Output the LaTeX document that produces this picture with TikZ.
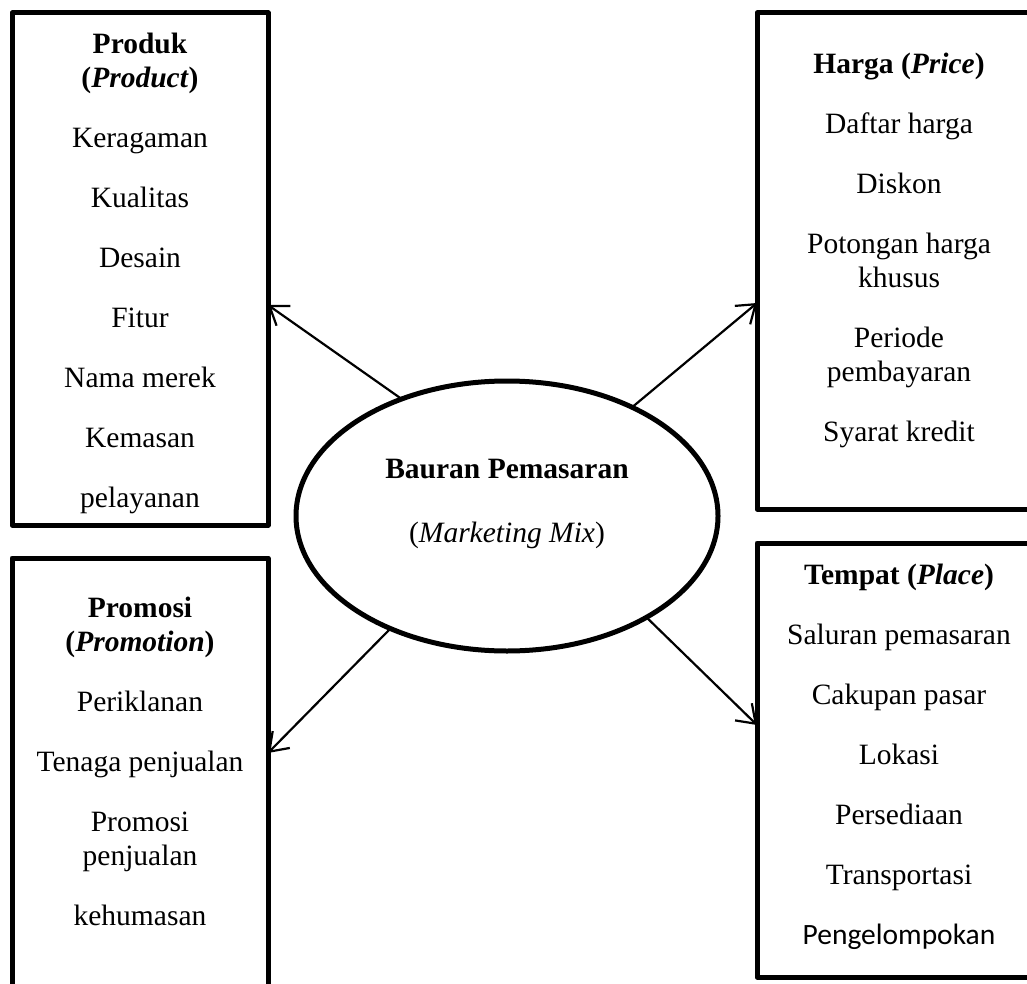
\documentclass[tikz,border=0pt]{standalone}
\usepackage{fontspec}
\setmainfont{Liberation Serif}
\newfontfamily\calibri{Carlito}
\usetikzlibrary{shapes.geometric,arrows.meta}

\begin{document}
\begin{tikzpicture}[x=1pt, y=-1pt, line join=round,
	>={Straight Barb[length=17pt,width=24pt]},
	kotak/.style={draw, line width=5pt, inner sep=0pt, outer sep=0pt},
	isi/.style={anchor=north, align=center, inner sep=0pt, font=\fontsize{29.5}{34}\selectfont},
	panah/.style={->, line width=2.2pt}]
	%% Ukuran gambar
	\def\lebar{1027}
	\def\tinggi{984}
	%% Jarak antar butir
	\def\jarak{26pt}
	\useasboundingbox (0,0) rectangle (\lebar,\tinggi);
	\clip (0,0) rectangle (\lebar,\tinggi);
	%% Elips di tengah
	\node [kotak, ellipse, minimum width=422pt, minimum height=270pt] (pm) at (507,516) {};
	\node [isi] (pm-isi) at ([yshift=56.6pt]pm.center)
		{\textbf{Bauran Pemasaran}\\[30pt](\textit{Marketing Mix})};
	%% Kotak-kotak
	\node [kotak, minimum width=256pt, minimum height=512pt] (produk) at (140,269) {};
	\node [kotak, minimum width=284pt, minimum height=496pt] (harga) at (899,261) {};
	\node [kotak, minimum width=256pt, minimum height=452pt] (promosi) at (140,784) {};
	\node [kotak, minimum width=284pt, minimum height=434pt] (tempat) at (899,760) {};
	%% Isi kotak
	\node [isi] (produk-isi) at ([yshift=-20.1pt]produk.north)
		{\textbf{Produk}\\\textbf{(\textit{Product})}\\[\jarak]Keragaman\\[\jarak]Kualitas\\[\jarak]Desain\\[\jarak]Fitur\\[\jarak]Nama merek\\[\jarak]Kemasan\\[\jarak]pelayanan};
	\node [isi] (harga-isi) at ([yshift=-39.7pt]harga.north)
		{\textbf{Harga (\textit{Price})}\\[\jarak]Daftar harga\\[\jarak]Diskon\\[\jarak]Potongan harga\\khusus\\[\jarak]Periode\\pembayaran\\[\jarak]Syarat kredit};
	\node [isi] (promosi-isi) at ([yshift=-38.4pt]promosi.north)
		{\textbf{Promosi}\\\textbf{(\textit{Promotion})}\\[\jarak]Periklanan\\[\jarak]Tenaga penjualan\\[\jarak]Promosi\\penjualan\\[\jarak]kehumasan};
	\node [isi] (tempat-isi) at ([yshift=-20.4pt]tempat.north)
		{\textbf{Tempat (\textit{Place})}\\[\jarak]Saluran pemasaran\\[\jarak]Cakupan pasar\\[\jarak]Lokasi\\[\jarak]Persediaan\\[\jarak]Transportasi\\[\jarak]{\calibri Pengelompokan}};
	%% Panah
	\draw [panah] (pm.132) -- ([yshift=-36pt]produk.east);
	\draw [panah] (pm.41) -- ([yshift=-42pt]harga.west);
	\draw [panah] (pm.224) -- ([yshift=31pt]promosi.east);
	\draw [panah] (pm.-36) -- ([yshift=35pt]tempat.west);
\end{tikzpicture}
\end{document}
